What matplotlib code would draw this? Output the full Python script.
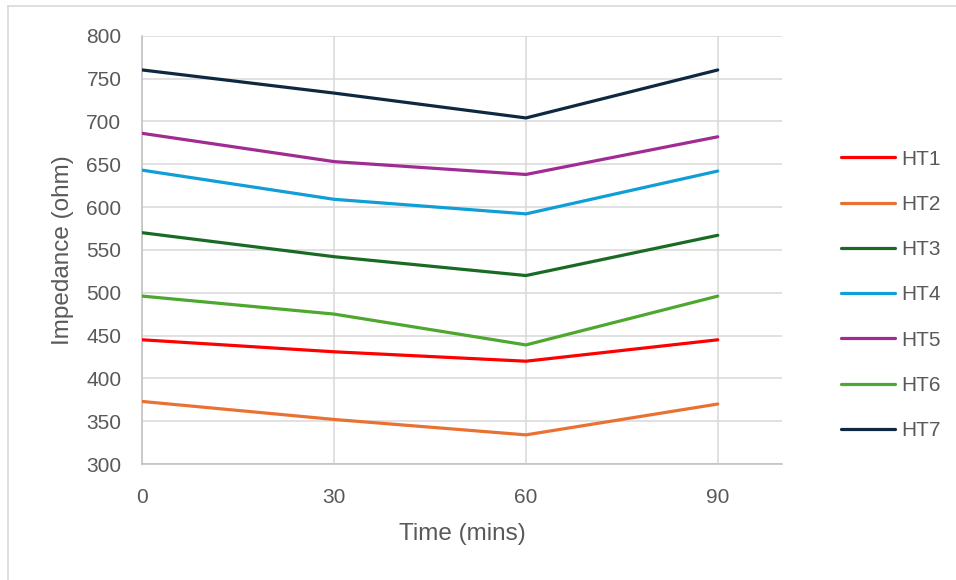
import matplotlib.pyplot as plt
from matplotlib.lines import Line2D

plt.rcParams['font.family'] = ['Liberation Sans', 'DejaVu Sans']

time_mins = [0, 30, 60, 90]
series_names = ["HT1", "HT2", "HT3", "HT4", "HT5", "HT6", "HT7"]
ht1 = [445, 431, 420, 445]
ht2 = [373, 352, 334, 370]
ht3 = [570, 542, 520, 567]
ht4 = [643, 609, 592, 642]
ht5 = [686, 653, 638, 682]
ht6 = [496, 475, 439, 496]
ht7 = [760, 733, 704, 760]
series_values = [ht1, ht2, ht3, ht4, ht5, ht6, ht7]
colors = ["#FF0000", "#E97132", "#196B24", "#0F9ED5", "#A02B93", "#4EA72E", "#0E2841"]

W, H = 956, 580
fig = plt.figure(figsize=(W / 100, H / 100), dpi=100)
ax = fig.add_axes([142.3 / W, 1 - 464 / H, (781.7 - 142.3) / W, (464 - 35.7) / H])

lines = []
for name, vals, c in zip(series_names, series_values, colors):
    ln, = ax.plot(time_mins, vals, color=c, lw=2.3, label=name,
                  solid_capstyle="round", solid_joinstyle="round", zorder=3)
    lines.append(ln)

ax.set_xlim(0, 100)
ax.set_ylim(300, 800)
ax.set_xticks([0, 30, 60, 90])
ax.set_yticks(range(300, 801, 50))
ax.grid(True, color="#D9D9D9", lw=1.1, zorder=0)
ax.tick_params(length=0, labelsize=15, colors="#595959")
ax.tick_params(axis="y", pad=15)
ax.tick_params(axis="x", pad=17)
for side, sp in ax.spines.items():
    if side in ("left", "bottom"):
        sp.set_color("#BFBFBF")
        sp.set_linewidth(1.1)
    else:
        sp.set_visible(False)

ax.set_xlabel("Time (mins)", fontsize=17.5, color="#595959", labelpad=12)
ax.set_ylabel("Impedance (ohm)", fontsize=17.5, color="#595959", labelpad=9)

leg = fig.legend(handles=lines, loc="center left",
                 bbox_to_anchor=(822 / W, 1 - 295 / H),
                 frameon=False, fontsize=15, labelcolor="#595959",
                 handlelength=2.6, handletextpad=0.3, labelspacing=1.26)

# chart border (left & top visible in the reference)
fig.add_artist(Line2D([7.5 / W, 7.5 / W], [0, 1 - 6 / H], transform=fig.transFigure,
                      color="#D9D9D9", lw=1.2))
fig.add_artist(Line2D([7.5 / W, 1], [1 - 6 / H, 1 - 6 / H], transform=fig.transFigure,
                      color="#D9D9D9", lw=1.2))

fig.savefig("out.png", dpi=100, facecolor="white")
